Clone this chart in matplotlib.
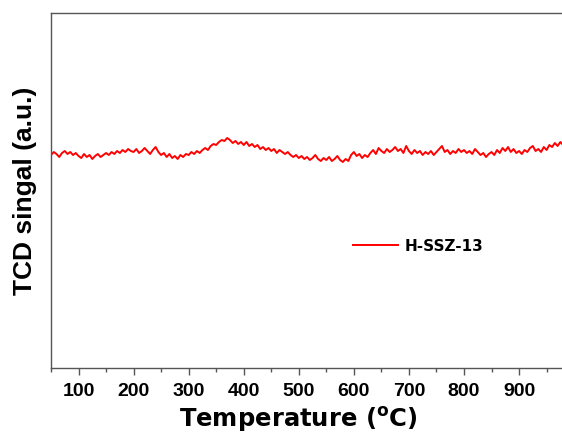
import numpy as np
from matplotlib import pyplot as plt

plt.rcParams['font.family'] = ['Liberation Sans', 'DejaVu Sans']

# temperature grid (C) and TCD signal (a.u.)
temperature = np.arange(50, 981, 5)
signal = [
    213, 216, 214, 211, 215, 217, 214, 216, 213, 215,
    212, 210, 214, 211, 213, 209, 212, 214, 211, 213,
    215, 213, 216, 214, 217, 215, 218, 216, 219, 217,
    216, 219, 215, 217, 220, 217, 214, 218, 221, 216,
    213, 215, 211, 214, 210, 212, 209, 213, 211, 214,
    213, 216, 214, 217, 215, 218, 220, 218, 222, 224,
    223, 226, 228, 227, 230, 228, 225, 227, 224, 226,
    223, 226, 222, 224, 221, 223, 219, 221, 218, 220,
    217, 219, 215, 218, 216, 214, 216, 213, 211, 213,
    210, 212, 209, 211, 208, 210, 213, 209, 207, 210,
    208, 211, 207, 209, 212, 208, 206, 209, 207, 213,
    216, 212, 214, 210, 213, 211, 215, 218, 214, 220,
    217, 215, 219, 216, 218, 221, 217, 219, 215, 222,
    217, 214, 218, 215, 217, 213, 216, 214, 217, 213,
    216, 219, 222, 216, 218, 214, 217, 215, 219, 216,
    218, 215, 217, 214, 219, 216, 213, 215, 211, 214,
    216, 213, 218, 215, 220, 217, 221, 216, 219, 215,
    217, 214, 218, 216, 220, 222, 217, 219, 216, 221,
    218, 223, 221, 225, 222, 226, 223,
]
series_name = 'H-SSZ-13'
xticks = [100, 200, 300, 400, 500, 600, 700, 800, 900]

fig = plt.figure(figsize=(5.62, 4.34), dpi=100)
ax = fig.add_axes([51 / 562, 1 - 368 / 434, 1 - 51 / 562, (368 - 13) / 434])

ax.plot(temperature, signal, color='red', linewidth=1.4, label=series_name)

ax.set_xlim(50, 978)
ax.set_ylim(0, 355)
ax.set_xticks(xticks)
ax.set_xticks(np.arange(50, 978, 50), minor=True)
ax.set_yticks([])

for side in ['left', 'bottom', 'top']:
    ax.spines[side].set_color('#555555')
    ax.spines[side].set_linewidth(1.0)
ax.spines['right'].set_visible(False)

ax.tick_params(axis='x', which='major', direction='out', length=5, width=1,
               color='#555555', labelsize=14, pad=6)
ax.tick_params(axis='x', which='minor', direction='out', length=3, width=1,
               color='#555555')
for lab in ax.get_xticklabels():
    lab.set_fontweight('bold')

ax.set_xlabel(r'Temperature ($\mathregular{^{o}}$C)', fontsize=17.5,
              family='DejaVu Sans', fontweight='bold')
ax.xaxis.set_label_coords(0.483, -0.103)
ax.set_ylabel('TCD singal (a.u.)', fontsize=19, fontweight='bold', labelpad=10)

leg = ax.legend(loc='center left', bbox_to_anchor=(0.565, 0.343), frameon=False,
                handlelength=2.9, handletextpad=0.45,
                prop={'family': 'DejaVu Sans', 'weight': 'bold', 'size': 11})

fig.savefig('out.png', dpi=100)
